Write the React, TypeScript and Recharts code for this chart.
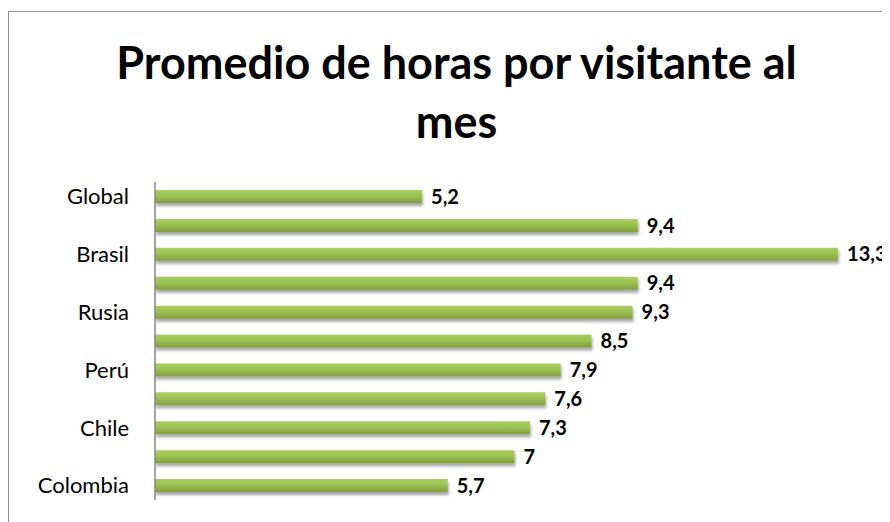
import { Bar, BarChart, LabelList, XAxis, YAxis } from "recharts";

const categories = [
  "Global",
  "Latinoamérica",
  "Brasil",
  "Argentina",
  "Rusia",
  "México",
  "Perú",
  "Venezuela",
  "Chile",
  "Puerto Rico",
  "Colombia",
];
const hours = [5.2, 9.4, 13.3, 9.4, 9.3, 8.5, 7.9, 7.6, 7.3, 7, 5.7];

const data = categories.map((name, i) => ({ name, hours: hours[i] }));

const fmt = (v: number) => String(v).replace(".", ",");

export default function App() {
  return (
    <div
      style={{
        position: "relative",
        width: 881,
        height: 510,
        marginTop: 3,
        borderTop: "1.5px solid #8c8c8c",
        borderLeft: "1.5px solid #8c8c8c",
        overflow: "hidden",
        fontFamily: "Lato, sans-serif",
      }}
    >
      <div
        style={{
          position: "absolute",
          left: 0,
          width: 895,
          top: 21,
          textAlign: "center",
          fontWeight: 700,
          fontSize: 45,
          lineHeight: "59px",
          color: "#000",
        }}
      >
        Promedio de horas por visitante al
        <br />
        mes
      </div>
      <BarChart
        width={881}
        height={510}
        data={data}
        layout="vertical"
        margin={{ top: 170, right: 16, bottom: 22, left: 0 }}
        style={{ position: "absolute", left: 0, top: 0, fontFamily: "Lato, sans-serif" }}
      >
        <defs>
          <linearGradient id="barGrad" x1="0" y1="0" x2="0" y2="1">
            <stop offset="0%" stopColor="#a9cf62" />
            <stop offset="45%" stopColor="#9cc251" />
            <stop offset="100%" stopColor="#7f9f3f" />
          </linearGradient>
          <filter id="barShadow" x="-5%" y="-50%" width="110%" height="220%">
            <feDropShadow dx="1" dy="3" stdDeviation="1.8" floodColor="#000" floodOpacity="0.35" />
          </filter>
        </defs>
        <XAxis type="number" domain={[0, 14]} hide />
        <YAxis
          type="category"
          dataKey="name"
          width={146}
          interval={1}
          tickSize={0}
          tickMargin={26}
          axisLine={{ stroke: "#868686", strokeWidth: 1.5 }}
          tickLine={false}
          tick={{ fill: "#000", fontSize: 22 }}
        />
        <Bar
          dataKey="hours"
          barSize={13}
          fill="url(#barGrad)"
          filter="url(#barShadow)"
          isAnimationActive={false}
        >
          <LabelList
            dataKey="hours"
            position="right"
            offset={9}
            formatter={(v: number) => fmt(v)}
            style={{ fill: "#000", fontSize: 20, fontWeight: 700 }}
          />
        </Bar>
      </BarChart>
    </div>
  );
}
